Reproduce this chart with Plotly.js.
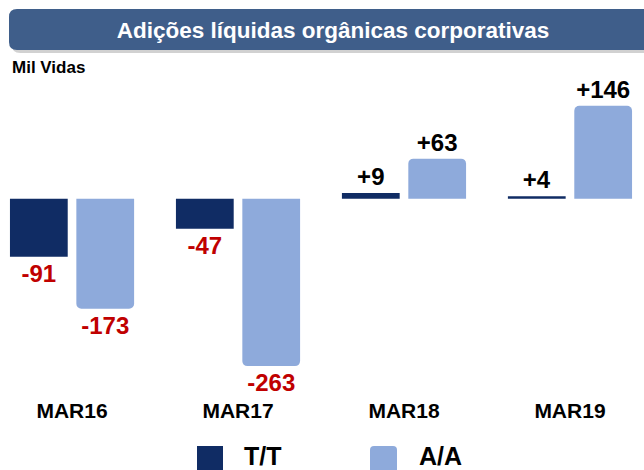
<!DOCTYPE html>
<html>
<head>
<meta charset="utf-8">
<script src="https://cdn.plot.ly/plotly-3.0.1.min.js"></script>
<style>html,body{margin:0;padding:0;background:#fff;}#chart{width:644px;height:470px;}</style>
</head>
<body>
<div id="chart"></div>
<script>
const categories = ['MAR16', 'MAR17', 'MAR18', 'MAR19'];
const ttValues = [-91, -47, 9, 4];
const aaValues = [-173, -263, 63, 146];
const seriesNames = ['T/T', 'A/A'];
const chartTitle = 'Adições líquidas orgânicas corporativas';
const unitLabel = 'Mil Vidas';

const NAVY = '#102c64';
const LIGHT = '#8eaadb';
const FONT = 'Arial, "Liberation Sans", sans-serif';

const W = 644, H = 470, MT = 60, MB = 74;
const PH = H - MT - MB;
const px = x => x / W;
const py = y => (H - MB - y) / PH;

const fmt = v => (v > 0 ? '+' + v : String(v));
const col = v => (v < 0 ? '#c00000' : '#000000');

const traces = [
  {
    type: 'bar', name: seriesNames[0], x: categories, y: ttValues,
    marker: { color: NAVY },
    text: ttValues.map(fmt), textposition: 'outside', cliponaxis: false,
    textfont: { family: FONT, size: 24, weight: 'bold', color: ttValues.map(col) },
    hoverinfo: 'skip', showlegend: false
  },
  {
    type: 'bar', name: seriesNames[1], x: categories, y: aaValues,
    marker: { color: LIGHT, cornerradius: 5 },
    text: aaValues.map(fmt), textposition: 'outside', cliponaxis: false,
    textfont: { family: FONT, size: 24, weight: 'bold', color: aaValues.map(col) },
    hoverinfo: 'skip', showlegend: false
  }
];

function roundRect(x0, y0, x1, y1, r) {
  const rx = r / W, ry = r / PH;
  const X0 = px(x0), X1 = px(x1), Y0 = py(y0), Y1 = py(y1);
  return `M${X0 + rx},${Y0} L${X1 - rx},${Y0} Q${X1},${Y0} ${X1},${Y0 - ry} L${X1},${Y1 + ry} Q${X1},${Y1} ${X1 - rx},${Y1} L${X0 + rx},${Y1} Q${X0},${Y1} ${X0},${Y1 + ry} L${X0},${Y0 - ry} Q${X0},${Y0} ${X0 + rx},${Y0} Z`;
}

const layout = {
  width: W, height: H,
  margin: { l: 0, r: 0, t: MT, b: MB },
  paper_bgcolor: '#ffffff', plot_bgcolor: '#ffffff',
  font: { family: FONT, color: '#000' },
  barmode: 'group', bargap: 0.2, bargroupgap: 0.13,
  title: {
    text: chartTitle, x: 333 / W, xanchor: 'center', y: 1 - 30 / H, yanchor: 'middle',
    font: { family: FONT, size: 22.5, weight: 'bold', color: '#ffffff' }
  },
  xaxis: {
    range: [-0.434, 3.446], showgrid: false, zeroline: false, showline: false,
    ticks: '', automargin: false,
    tickfont: { family: FONT, size: 21, weight: 'bold', color: '#000' }
  },
  yaxis: { range: [-310, 218], visible: false, showgrid: false, zeroline: false, fixedrange: true },
  shapes: [
    { type: 'path', xref: 'paper', yref: 'paper', layer: 'below', line: { width: 0 },
      fillcolor: 'rgba(0,0,0,0.18)', path: roundRect(12, 12, 660, 53, 8) },
    { type: 'path', xref: 'paper', yref: 'paper', layer: 'below', line: { width: 0 },
      fillcolor: '#3f5e8a', path: roundRect(9, 9, 660, 50, 8) },
    { type: 'rect', xref: 'paper', yref: 'paper', layer: 'above', line: { width: 0 },
      fillcolor: NAVY, x0: px(197), x1: px(223), y0: py(446), y1: py(472) },
    { type: 'path', xref: 'paper', yref: 'paper', layer: 'above', line: { width: 0 },
      fillcolor: LIGHT, path: roundRect(370, 446, 397, 473, 4) }
  ],
  annotations: [
    { text: unitLabel, xref: 'paper', yref: 'paper', x: px(10), y: py(67), xanchor: 'left', yanchor: 'middle',
      showarrow: false, font: { family: FONT, size: 17, weight: 'bold', color: '#000' } },
    { text: seriesNames[0], xref: 'paper', yref: 'paper', x: px(242), y: py(440), xanchor: 'left', yanchor: 'top',
      showarrow: false, font: { family: FONT, size: 25, weight: 'bold', color: '#000' } },
    { text: seriesNames[1], xref: 'paper', yref: 'paper', x: px(417), y: py(440), xanchor: 'left', yanchor: 'top',
      showarrow: false, font: { family: FONT, size: 25, weight: 'bold', color: '#000' } }
  ]
};

Plotly.newPlot('chart', traces, layout, { displayModeBar: false, staticPlot: true });
</script>
</body>
</html>
